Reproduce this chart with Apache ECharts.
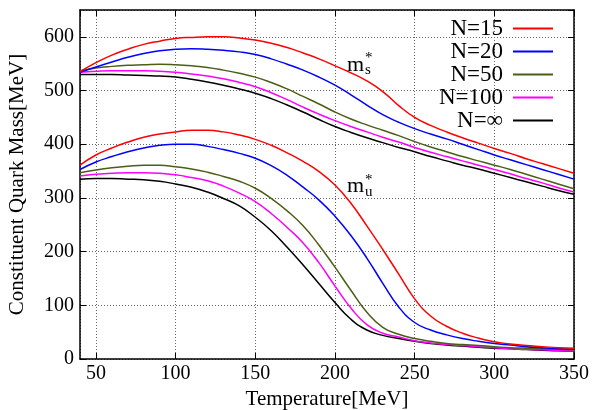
<!DOCTYPE html>
<html>
<head>
<meta charset="utf-8">
<script src="https://cdn.jsdelivr.net/npm/echarts@6/dist/echarts.min.js"></script>
<style>
html, body { margin: 0; padding: 0; background: #fff; }
#main { width: 603px; height: 410px; }
</style>
</head>
<body>
<div id="main"></div>
<script>
var myChart = echarts.init(document.getElementById('main'));

// temperatures [MeV], 40 .. 350 step 10
var temps = [40, 50, 60, 70, 80, 90, 100, 110, 120, 130, 140, 150, 160, 170, 180, 190,
	200, 210, 220, 230, 240, 250, 260, 270, 280, 290, 300, 310, 320, 330, 340, 350];

// strange quark constituent mass m_s*
var ms15  = [535, 552, 566, 577, 586, 592, 597, 599, 600, 600, 598, 594, 588, 580, 570, 559,
	546, 533, 518, 498, 472, 450, 435, 423, 412, 402, 392, 383, 373, 364, 355, 346];
var ms20  = [534, 544, 553, 562, 569, 574, 577, 578, 577, 575, 572, 567, 559, 549, 538, 525,
	510, 492, 473, 455, 441, 429, 419, 410, 400, 390, 380, 371, 362, 353, 344, 335];
var ms50  = [537, 542, 545, 547, 548, 549, 548, 546, 543, 538, 532, 525, 515, 503, 489, 475,
	460, 447, 436, 426, 416, 405, 395, 386, 377, 369, 361, 353, 344, 335, 326, 317];
var ms100 = [534, 536, 537, 537, 537, 536, 534, 531, 527, 522, 515, 507, 496, 483, 469, 456,
	444, 433, 423, 413, 404, 394, 385, 377, 369, 361, 353, 345, 336, 328, 319, 311];
var msInf = [530, 530, 530, 529, 528, 527, 525, 521, 516, 510, 503, 495, 485, 473, 460, 446,
	433, 422, 412, 403, 394, 386, 377, 369, 361, 354, 346, 338, 330, 322, 314, 307];

// up quark constituent mass m_u*
var mu15  = [361, 380, 393, 404, 413, 419, 423, 426, 426, 423, 417, 409, 398, 384, 368, 349,
	324, 290, 248, 204, 158, 112, 80, 61, 48, 39, 32, 28, 25, 23, 21, 20];
var mu20  = [353, 367, 377, 386, 393, 398, 400, 400, 396, 390, 383, 374, 360, 342, 320, 296,
	266, 230, 188, 141, 97, 68, 54, 45, 38, 33, 29, 26, 23, 21, 19, 18];
var mu50  = [347, 352, 356, 359, 361, 361, 358, 354, 348, 340, 331, 318, 299, 276, 248, 212,
	171, 128, 87, 59, 46, 38, 33, 29, 27, 25, 23, 21, 20, 19, 18, 17];
var mu100 = [341, 344, 346, 347, 347, 346, 343, 338, 332, 322, 309, 293, 271, 245, 216, 179,
	136, 95, 64, 48, 41, 34, 30, 27, 25, 23, 21, 19.5, 18, 17, 16, 15.5];
var muInf = [335, 336, 336, 335, 334, 331, 326, 320, 311, 299, 285, 264, 239, 208, 175, 140,
	105, 74, 54, 44, 38, 33, 29, 26, 24, 22, 20, 19, 17.5, 16.5, 15.5, 15];

var names = ['N=15', 'N=20', 'N=50', 'N=100', 'N=\u221e'];
var colors = ['#ff0000', '#0000ff', '#4b5e16', '#ff00ff', '#000000'];
var msAll = [ms15, ms20, ms50, ms100, msInf];
var muAll = [mu15, mu20, mu50, mu100, muInf];

// annotation anchors in data coords
var labelS = [207.5, 547];
var labelU = [207.5, 321];

var font = 'Liberation Serif';

var pairs = function (ys) {
	var arr = [];
	for (var i = 0; i < temps.length; i++) {
		arr.push([temps[i], ys[i]]);
	}
	return arr;
};

var series = [];
for (var k = 0; k < names.length; k++) {
	[msAll[k], muAll[k]].forEach(function (ys) {
		series.push({
			name: names[k],
			type: 'line',
			data: pairs(ys),
			smooth: 0.5,
			showSymbol: false,
			symbol: 'none',
			color: colors[k],
			lineStyle: { width: 1.5, color: colors[k] },
			z: 10 - k
		});
	});
}

var gridLine = { show: true, lineStyle: { color: '#666', width: 1, type: [1, 2] } };
var borderLine = { show: true, onZero: false, lineStyle: { color: '#000', width: 1.5 } };
var tickIn = { show: true, inside: true, length: 6, lineStyle: { color: '#000', width: 1 } };

var option = {
	animation: false,
	backgroundColor: '#fff',
	grid: { left: 80, right: 29, top: 10, bottom: 51, outerBoundsMode: 'none' },
	legend: {
		orient: 'vertical',
		right: 45,
		top: 12,
		align: 'right',
		itemWidth: 40,
		itemHeight: 2,
		itemGap: 0,
		icon: 'rect',
		textStyle: { fontFamily: font, fontSize: 23, color: '#000', lineHeight: 22.3, padding: [0, 5, 0, 0] },
		data: names
	},
	xAxis: [{
		type: 'value',
		min: 40,
		max: 350,
		splitNumber: 6,
		name: 'Temperature[MeV]',
		nameLocation: 'middle',
		nameGap: 28,
		nameTextStyle: { fontFamily: font, fontSize: 21, color: '#000' },
		axisLine: borderLine,
		axisTick: tickIn,
		splitLine: gridLine,
		axisLabel: { fontFamily: font, fontSize: 20, color: '#000', margin: 5, showMinLabel: false }
	}, {
		type: 'value',
		position: 'top',
		min: 40,
		max: 350,
		splitNumber: 6,
		axisLine: borderLine,
		axisTick: tickIn,
		splitLine: { show: false },
		axisLabel: { show: false }
	}],
	yAxis: [{
		type: 'value',
		min: 0,
		max: 650,
		interval: 100,
		name: 'Constituent Quark Mass[MeV]',
		nameLocation: 'middle',
		nameGap: 52,
		nameTextStyle: { fontFamily: font, fontSize: 21, color: '#000' },
		axisLine: borderLine,
		axisTick: tickIn,
		splitLine: gridLine,
		axisLabel: { fontFamily: font, fontSize: 20, color: '#000', margin: 6, showMaxLabel: false }
	}, {
		type: 'value',
		position: 'right',
		min: 0,
		max: 650,
		interval: 100,
		axisLine: borderLine,
		axisTick: tickIn,
		splitLine: { show: false },
		axisLabel: { show: false }
	}],
	series: series
};
myChart.setOption(option);

// m* annotations
var mLabel = function (pt, sub) {
	var p = myChart.convertToPixel({ xAxisIndex: 0, yAxisIndex: 0 }, pt);
	return [
		{ type: 'text', x: p[0], y: p[1], style: { text: 'm', fontFamily: font, fontSize: 22, fill: '#000', textAlign: 'left', textVerticalAlign: 'middle' } },
		{ type: 'text', x: p[0] + 18, y: p[1] - 7, style: { text: '*', fontFamily: font, fontSize: 15, fill: '#000', textAlign: 'left', textVerticalAlign: 'middle' } },
		{ type: 'text', x: p[0] + 18, y: p[1] + 5, style: { text: sub, fontFamily: font, fontSize: 15, fill: '#000', textAlign: 'left', textVerticalAlign: 'middle' } }
	];
};
myChart.setOption({ graphic: mLabel(labelS, 's').concat(mLabel(labelU, 'u')) });
</script>
</body>
</html>
